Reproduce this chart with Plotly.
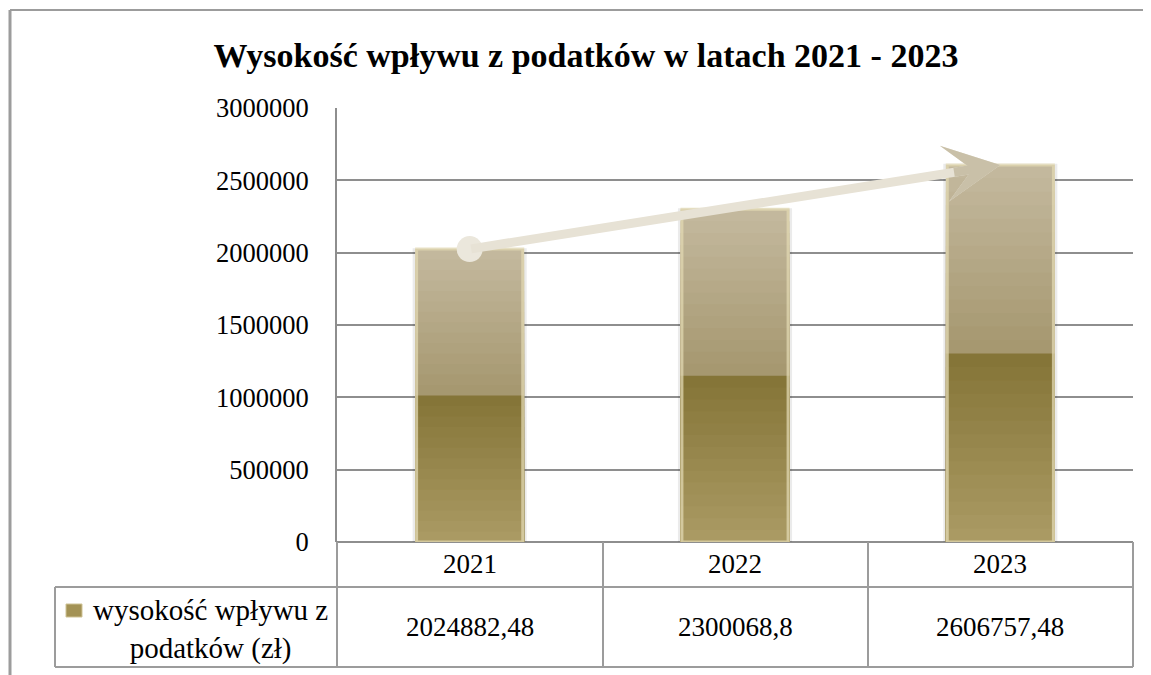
import plotly.graph_objects as go

# ---- data ----
years = ["2021", "2022", "2023"]
values = [2024882.48, 2300068.8, 2606757.48]
series_name = "wysokość wpływu z<br>podatków (zł)"
title_text = "Wysokość wpływu z podatków w latach 2021 - 2023"
y_ticks = [0, 500000, 1000000, 1500000, 2000000, 2500000, 3000000]

value_labels = [str(v).replace(".", ",") for v in values]

W, H = 1151, 675
OFF = 8  # page body margin
L, R, T, B = 337, 1133, 108, 542   # plot area in page pixels
FONT = "Liberation Serif, Times New Roman, serif"
GRID = "#8e8e8e"
FRAME = "#9c9c9c"


def px(x):
    return (x - L) / (R - L)


def py(y):
    return (B - y) / (B - T)


def mix(c1, c2, t):
    a = [int(c1[i:i + 2], 16) for i in (1, 3, 5)]
    b = [int(c2[i:i + 2], 16) for i in (1, 3, 5)]
    return "rgb(%d,%d,%d)" % tuple(round(a[i] + (b[i] - a[i]) * t) for i in range(3))


fig = go.Figure()
BW = 0.41

# soft shadow
fig.add_trace(go.Bar(x=years, y=[v * 1.003 for v in values], width=BW + 0.02,
                     marker=dict(color="rgba(0,0,0,0.08)", line=dict(width=0)),
                     hoverinfo="skip", showlegend=False))

# stepped gradient: upper (light) half then lower (dark) half
N = 14
for k in range(N):
    f = 1 - k * 0.5 / N
    c = mix("#c3b89d", "#a69870", k / (N - 1))
    fig.add_trace(go.Bar(x=years, y=[v * f for v in values], width=BW,
                         marker=dict(color=c, line=dict(width=0)),
                         hoverinfo="skip", showlegend=False))
for k in range(N):
    f = 0.5 - k * 0.5 / N
    c = mix("#857538", "#aa9a63", k / (N - 1))
    fig.add_trace(go.Bar(x=years, y=[v * f for v in values], width=BW,
                         marker=dict(color=c, line=dict(width=0)),
                         hoverinfo="skip", showlegend=False))

# bevel highlight
fig.add_trace(go.Bar(x=years, y=values, width=BW - 0.01, name=series_name,
                     marker=dict(color="rgba(0,0,0,0)",
                                 line=dict(color="rgba(226,216,178,0.75)", width=3)),
                     showlegend=False))

# start circle of the trend arrow
fig.add_trace(go.Scatter(x=[years[0]], y=[values[0]], mode="markers",
                         marker=dict(size=26, color="#ebe7dc"),
                         hoverinfo="skip", showlegend=False))

annotations = []
idx = list(range(len(years)))
n = idx[-1]
# trend arrow
annotations.append(dict(x=n, y=values[-1], xref="x", yref="y",
                        ax=0, ay=values[0], axref="x", ayref="y",
                        showarrow=True, arrowhead=3, arrowwidth=9, arrowsize=1.05,
                        arrowcolor="#e7e2d5", text="", standoff=0))
annotations.append(dict(x=n, y=values[-1], xref="x", yref="y",
                        ax=n - 0.09 * n, ay=values[-1] - 0.09 * (values[-1] - values[0]),
                        axref="x", ayref="y",
                        showarrow=True, arrowhead=3, arrowwidth=9, arrowsize=1.05,
                        arrowcolor="#c9c0a8", text="", standoff=0))

# table texts
for i, yr, lab in zip(idx, years, value_labels):
    annotations.append(dict(x=i, y=py(564), xref="x", yref="paper", text=yr,
                            showarrow=False, font=dict(family=FONT, size=27, color="black"),
                            xanchor="center", yanchor="middle"))
    annotations.append(dict(x=i, y=py(627), xref="x", yref="paper", text=lab,
                            showarrow=False, font=dict(family=FONT, size=27, color="black"),
                            xanchor="center", yanchor="middle"))
annotations.append(dict(x=px(210), y=py(629), xref="paper", yref="paper", text=series_name,
                        showarrow=False, align="center",
                        font=dict(family=FONT, size=29, color="black"),
                        xanchor="center", yanchor="middle"))

line = dict(color=FRAME, width=2)
shapes = []


def seg(x0, y0, x1, y1, ln=line):
    shapes.append(dict(type="line", xref="paper", yref="paper",
                       x0=px(x0), y0=py(y0), x1=px(x1), y1=py(y1), line=ln))


# outer frame
seg(10, 10, 1170, 10)
seg(10, 10, 10, 690, dict(color=FRAME, width=3))
# table grid
seg(55, 587, R, 587)
seg(55, 667, R, 667)
seg(55, 587, 55, 667)
for xv in (L, 603, 868, R):
    seg(xv, B, xv, 667)
# legend swatch
shapes.append(dict(type="rect", xref="paper", yref="paper",
                   x0=px(66), x1=px(82), y0=py(617), y1=py(604),
                   fillcolor="#a39255", line=dict(color="#cfc396", width=1)))

fig.update_layout(
    width=W, height=H,
    margin=dict(l=L - OFF, r=W - (R - OFF), t=T - OFF, b=H - (B - OFF)),
    paper_bgcolor="white", plot_bgcolor="white",
    barmode="overlay",
    title=dict(text="<b>" + title_text + "</b>", x=(586 - OFF) / W, xanchor="center",
               y=1 - (55 - OFF) / H, yanchor="middle",
               font=dict(family=FONT, size=34, color="black")),
    xaxis=dict(range=[-0.5, 2.5], showticklabels=False, showgrid=False,
               zeroline=False, showline=False, type="category"),
    yaxis=dict(range=[0, 3000000], tickvals=y_ticks,
               ticktext=[str(t) for t in y_ticks],
               showgrid=True, gridcolor=GRID, gridwidth=2,
               zeroline=True, zerolinecolor=GRID, zerolinewidth=2,
               showline=True, linecolor=GRID, linewidth=2,
               ticks="", ticklabelstandoff=21,
               tickfont=dict(family=FONT, size=26.5, color="black")),
    annotations=annotations,
    shapes=shapes,
)

fig.write_html("out.html")
